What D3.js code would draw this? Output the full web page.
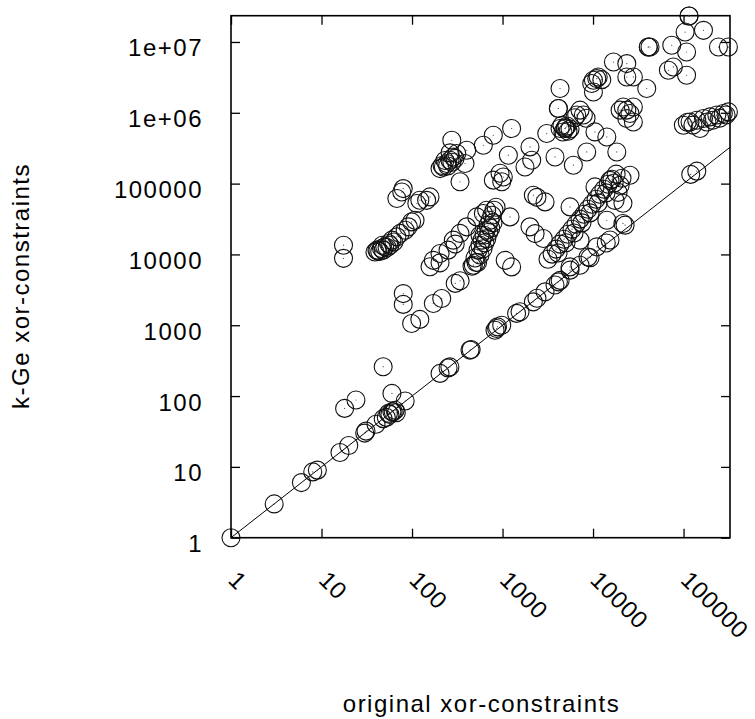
<!DOCTYPE html>
<html>
<head>
<meta charset="utf-8">
<script src="https://cdn.jsdelivr.net/npm/d3@7"></script>
<style>
  html, body { margin: 0; padding: 0; background: #fff; }
  svg { display: block; }
  text { font-family: "Liberation Sans", Arial, Helvetica, sans-serif; }
</style>
</head>
<body>
<svg id="chart" width="755" height="719"></svg>
<script>
// Tick values and their printed labels
const xTickValues = [1, 10, 100, 1000, 10000, 100000];
const xTickLabels = ["1", "10", "100", "1000", "10000", "100000"];
const yTickValues = [1, 10, 100, 1000, 10000, 100000, 1e6, 1e7];
const yTickLabels = ["1", "10", "100", "1000", "10000", "100000", "1e+06", "1e+07"];

// [original xor-constraints, k-Ge xor-constraints]
const nearIdentity = [
  [1,1],[3,3],[6,6],[8,8.5],[9,9],[16,16],[20,20],[30,30],[31,32],[40,40],[48,48],[52,50],
  [55,57],[57,55],[60,60],[62,60],[65,63],[67,58],[84,85],[204,209],[250,250],[262,258],
  [437,446],[450,455],[826,850],[860,900],[880,950],[980,1000],[1430,1470],[1560,1550],
  [2190,2140],[2400,2400],[2950,2960],[3800,3700],[4140,4100],[4330,4300],[5570,6000],
  [7180,7050],[8800,9200],[9270,9000],[11000,12800],[14000,14500],[15400,16000],
  [22600,25900],[120000,135000],[140000,150000]
];
const smallGrowth = [
  [48,260],[60,109],[18,67],[24,88],
  [80,2800],[80,1970],[99,1060],[122,1210],[172,2030],[213,2390],[300,3900],[340,4240],
  [158,6700],[204,7600],[476,7050],[530,7700],[172,8250],[204,10300],[286,15900],
  [339,19800],[402,24500],[300,14000],[250,11500]
];
const lowerBand = [
  [17.5,8800],[17.5,13500],
  [39,10800],[41,11500],[42,11200],[44,11000],[46,12100],[47,13500],[48,11500],[50,12800],
  [53,12500],[55,14300],[57,13500],[60,15900],[63,15000],[68,17700],[74,19800],[84,22000],
  [91,24500],[99,28800],[108,30400],
  [68,61700],[77,76000],[80,85000],[113,52400],[122,58300],[145,58000],[158,64900]
];
const steepColumn = [
  [460,6800],[497,8900],[510,7700],[536,11500],[564,9800],[564,13500],[593,15900],[609,12000],
  [625,18700],[640,14600],[658,22000],[670,16700],[692,25900],[705,20600],[728,30400],
  [740,23400],[766,35800],[785,28100],[805,42100],[848,46400],[564,18700],[519,33900],
  [614,37800],[668,42100],
  [1070,8250],[1260,6670],[1210,33900],[2010,24500],[2290,19700],[2820,16800],[2190,68600],
  [2400,64000],[2950,55200],[5570,46900],[938,140000],[791,112000]
];
const parallelBand = [
  [3180,8570],[3530,10100],[3900,11900],[4320,14000],[4780,16400],[5290,19300],[5860,22700],
  [6490,26700],[7180,31500],[7950,37000],[8800,43500],[9740,51200],[10800,60200],[11900,70800],
  [13200,83400],[14700,98000],[16200,115000],[18000,136000],
  [4100,10500],[5030,14600],[6170,20100],[7550,27900],[9270,38600],[11400,53400],[13900,73900],
  [17100,102000],
  [17500,57900],[18900,75100],[19900,94400],[20900,119000],[15400,111000],[25600,131000],
  [21400,52900],[21400,27400],[14200,30400],[10500,89800],[7180,15900],[5570,6670]
];
const upperLeft = [
  [204,163000],[222,172000],[242,192000],[263,214000],[286,238000],[312,266000],[231,212000],
  [248,177000],[276,200000],[299,227000],[215,180000],[263,272000],[275,409000],[402,296000],
  [385,192000],[339,106000],[614,348000],[791,482000],[1260,600000]
];
const upperMiddle = [
  [2010,330000],[1160,252000],[1770,172000],[2100,214000],[3800,238000],[6060,182000],
  [8510,280000],[18300,280000],[1020,124000],[980,106000],[3080,509000],[10500,537000],
  [14200,456000],
  [4910,600000],[4540,667000],[5290,549000],[4650,535000],[5150,650000],[4320,600000],
  [5570,590000],[4910,600000],[5000,620000],
  [4140,1150000],[4140,1150000],[4320,2200000],[7180,1090000],[7820,930000],[6600,930000],
  [8370,838000],[6280,850000]
];
const upperRight = [
  [16800,5210000],[23600,4950000],[11000,3040000],[10100,2880000],[12500,2940000],
  [9670,2590000],[10100,1970000],[11400,3200000],[23600,3200000],[27900,3210000],[39200,2200000],
  [21600,1210000],[23600,1090000],[25600,975000],[27900,1210000],[23600,830000],[27900,743000],
  [19900,1090000],
  [40800,8490000],[42600,8490000],[40800,8490000],[74100,8970000],[108000,7220000],
  [68000,3980000],[77100,4440000],[108000,3390000],[104000,13800000],[166000,14600000],
  [115000,23300000],[115000,23300000],[243000,8490000],[313000,8490000]
];
const largeInstances = [
  [99500,667000],[110000,735000],[118000,743000],[127000,670000],[140000,785000],[152000,600000],
  [166000,830000],[181000,740000],[196000,875000],[210000,785000],[233000,929000],[250000,840000],
  [275000,975000],[295000,930000],[313000,1030000]
];

const points = [].concat(nearIdentity, smallGrowth, lowerBand, steepColumn, parallelBand,
                         upperLeft, upperMiddle, upperRight, largeInstances);

const xMax = 326000, yMax = 23500000;
const plot = { left: 231, right: 730, top: 15.7, bottom: 537.7 };

const x = d3.scaleLog().domain([1, xMax]).range([plot.left, plot.right]);
const y = d3.scaleLog().domain([1, yMax]).range([plot.bottom, plot.top]);

const svg = d3.select("#chart");
const fontSize = 24, spacing = 1.5;

// Inward ticks on all four sides
const tick = 9;
const bottomAxis = svg.append("g").attr("transform", `translate(0,${plot.bottom})`)
  .call(d3.axisBottom(x).tickValues(xTickValues).tickSizeInner(-tick).tickSizeOuter(0)
    .tickFormat((d, i) => xTickLabels[i]));
svg.append("g").attr("transform", `translate(0,${plot.top})`)
  .call(d3.axisTop(x).tickValues(xTickValues).tickSizeInner(-tick).tickSizeOuter(0).tickFormat(""));
const leftAxis = svg.append("g").attr("transform", `translate(${plot.left},0)`)
  .call(d3.axisLeft(y).tickValues(yTickValues).tickSizeInner(-tick).tickSizeOuter(0)
    .tickPadding(28).tickFormat((d, i) => yTickLabels[i]));
svg.append("g").attr("transform", `translate(${plot.right},0)`)
  .call(d3.axisRight(y).tickValues(yTickValues).tickSizeInner(-tick).tickSizeOuter(0).tickFormat(""));

svg.selectAll(".domain").remove();
svg.selectAll(".tick line").attr("stroke", "#000").attr("stroke-width", 1.3);

leftAxis.selectAll("text")
  .attr("dy", null).attr("y", 14)
  .attr("font-size", fontSize).attr("letter-spacing", spacing)
  .attr("fill", "#000").style("font-family", "'Liberation Sans', Arial, sans-serif");

// Rotated tick labels running down and to the right
bottomAxis.selectAll("text")
  .attr("dy", null).attr("y", null)
  .attr("text-anchor", "start")
  .attr("transform", "translate(-4.5,43.7) rotate(45)")
  .attr("font-size", fontSize).attr("letter-spacing", 0.5)
  .attr("fill", "#000").style("font-family", "'Liberation Sans', Arial, sans-serif");

// Plot border
svg.append("rect")
  .attr("x", plot.left).attr("y", plot.top)
  .attr("width", plot.right - plot.left).attr("height", plot.bottom - plot.top)
  .attr("fill", "none").attr("stroke", "#000").attr("stroke-width", 1.6);

// y = x reference line
const line = d3.line().x(d => x(d)).y(d => y(d));
svg.append("path")
  .attr("d", line([1, xMax]))
  .attr("fill", "none").attr("stroke", "#000").attr("stroke-width", 1);

// Points: open circles with a small centre dot
const marks = svg.append("g");
marks.selectAll("circle.pt").data(points).join("circle")
  .attr("class", "pt")
  .attr("cx", d => x(d[0])).attr("cy", d => y(d[1])).attr("r", 9)
  .attr("fill", "none").attr("stroke", "#111").attr("stroke-width", 1.1);
marks.selectAll("circle.dot").data(points).join("circle")
  .attr("class", "dot")
  .attr("cx", d => x(d[0])).attr("cy", d => y(d[1])).attr("r", 0.6)
  .attr("fill", "#444");

// Axis titles
svg.append("text")
  .attr("x", (plot.left + plot.right) / 2 + 1).attr("y", 712)
  .attr("text-anchor", "middle").attr("font-size", fontSize).attr("letter-spacing", spacing)
  .text("original xor-constraints");
svg.append("text")
  .attr("transform", "translate(28.5,286) rotate(-90)")
  .attr("text-anchor", "middle").attr("font-size", fontSize).attr("letter-spacing", spacing)
  .text("k-Ge xor-constraints");
</script>
</body>
</html>
